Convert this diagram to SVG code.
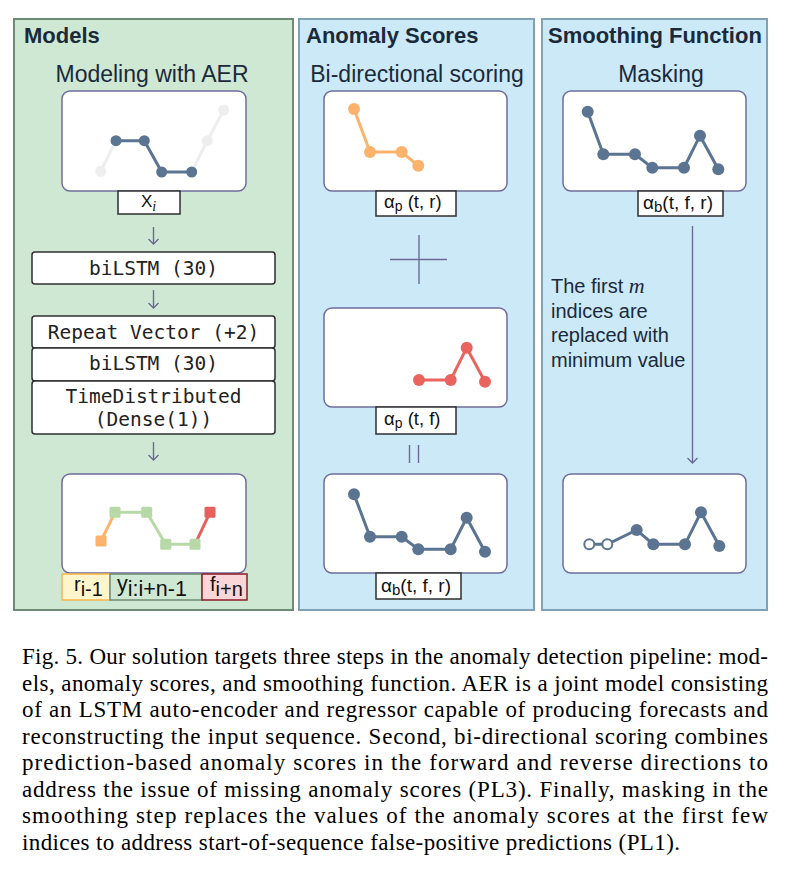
<svg xmlns="http://www.w3.org/2000/svg" width="790" height="882" viewBox="0 0 790 882">
<defs>
<style>
.pg{fill:#cfe8d4;stroke:#6e8c74;stroke-width:2}
.pb{fill:#cce9f8;stroke:#7ea2b3;stroke-width:2}
.chart{fill:#fff;stroke:#6f6c9b;stroke-width:1.5}
.title{font-family:"Liberation Sans",Arial,sans-serif;font-weight:bold;font-size:22px;fill:#1b2a3b}
.sub{font-family:"Liberation Sans",Arial,sans-serif;font-size:23px;fill:#1b2a3b;text-anchor:middle}
.mono{font-family:"DejaVu Sans Mono","Liberation Mono",monospace;font-size:19.5px;fill:#222;text-anchor:middle}
.box{fill:#fff;stroke:#2f2f2f;stroke-width:1.5}
.lt{font-family:"Liberation Sans",Arial,sans-serif;fill:#111}
.arr{stroke:#6b6b95;stroke-width:1.4;fill:none}
.dk{stroke:#5a7491;stroke-width:3;fill:none}
.dkp{fill:#5a7491}
.cap{font-family:"Liberation Serif","Times New Roman",serif;font-size:23px;fill:#000}
.note{font-family:"Liberation Sans",Arial,sans-serif;font-size:20px;fill:#1b2a3b}
</style>
</defs>
<rect width="790" height="882" fill="#fff"/>

<g id="panel-models">
<rect class="pg" x="14" y="19" width="279" height="591"/>
<text class="title" x="24" y="43">Models</text>
<text class="sub" x="152" y="82">Modeling with AER</text>
</g>
<g id="panel-scores">
<rect class="pb" x="299" y="19" width="235" height="591"/>
<text class="title" x="306" y="43">Anomaly Scores</text>
<text class="sub" x="417" y="82">Bi-directional scoring</text>
</g>
<g id="panel-smoothing">
<rect class="pb" x="542" y="19" width="225" height="591"/>
<text class="title" x="548" y="43">Smoothing Function</text>
<text class="sub" x="661" y="82">Masking</text>
</g>

<g id="input-chart">
<rect class="chart" x="62" y="91" width="184" height="100" rx="8"/>
<polyline points="100.7,171.3 116,140.7" stroke="#eeeeee" stroke-width="3" fill="none"/>
<polyline points="191.7,172 207.3,140.7 223.7,110" stroke="#eeeeee" stroke-width="3" fill="none"/>
<polyline class="dk" points="116,140.7 144.3,140.7 161.7,172 191.7,172"/>
<g fill="#eeeeee"><circle cx="100.7" cy="171.3" r="5.5"/><circle cx="207.3" cy="140.7" r="5.5"/><circle cx="223.7" cy="110" r="5.5"/></g>
<g class="dkp"><circle cx="116" cy="140.7" r="5.5"/><circle cx="144.3" cy="140.7" r="5.5"/><circle cx="161.7" cy="172" r="5.5"/><circle cx="191.7" cy="172" r="5.5"/></g>
</g>
<g id="label-xi">
<rect class="box" x="118" y="191" width="62" height="23"/>
<text class="lt" x="141" y="207" style="font-size:17px">X<tspan style="font-family:'Liberation Serif',serif;font-style:italic;font-size:14px" dy="4">i</tspan></text>
</g>

<g id="bilstm-1">
<rect class="box" x="32" y="252" width="243" height="32" rx="3"/>
<text class="mono" x="153.5" y="275">biLSTM (30)</text>
</g>
<g id="repeat-vector">
<rect class="box" x="32" y="316" width="243" height="32" rx="3"/>
<text class="mono" x="153.5" y="339">Repeat Vector (+2)</text>
</g>
<g id="bilstm-2">
<rect class="box" x="32" y="348" width="243" height="33" rx="3"/>
<text class="mono" x="153.5" y="370">biLSTM (30)</text>
</g>
<g id="time-distributed">
<rect class="box" x="32" y="381" width="243" height="53" rx="3"/>
<text class="mono" x="153.5" y="403">TimeDistributed</text>
<text class="mono" x="153.5" y="426">(Dense(1))</text>
</g>

<g id="output-chart">
<rect class="chart" x="62" y="474" width="184" height="99" rx="8"/>
<line x1="101" y1="541" x2="115" y2="512.3" stroke="#fdb36b" stroke-width="3"/>
<polyline points="115,512.3 146.7,512.3 165.7,544.3 195,544.3" stroke="#b7d9a7" stroke-width="3" fill="none"/>
<line x1="195" y1="544.3" x2="210" y2="512.3" stroke="#e8605e" stroke-width="3"/>
<rect x="95.5" y="535.5" width="11" height="11" rx="1.5" fill="#fdb36b"/>
<g fill="#b7d9a7">
<rect x="109.5" y="506.8" width="11" height="11" rx="1.5"/>
<rect x="141.2" y="506.8" width="11" height="11" rx="1.5"/>
<rect x="160.2" y="538.8" width="11" height="11" rx="1.5"/>
<rect x="189.5" y="538.8" width="11" height="11" rx="1.5"/>
</g>
<rect x="204.5" y="506.8" width="11" height="11" rx="1.5" fill="#e8605e"/>
</g>
<g id="label-r">
<rect x="62" y="574" width="48" height="26" fill="#fef5cc" stroke="#f6b548" stroke-width="1.5"/>
<text class="lt" x="74" y="591" style="font-size:20px">r<tspan dy="5">i-1</tspan></text>
</g>
<g id="label-y">
<rect x="110" y="574" width="92" height="26" fill="#cfe8d4" stroke="#6e8c74" stroke-width="1.5"/>
<text class="lt" x="117" y="591" style="font-size:21.5px">y<tspan dy="5">i:i+n-1</tspan></text>
</g>
<g id="label-f">
<rect x="202" y="574" width="45" height="26" fill="#fbd6d9" stroke="#8b1c24" stroke-width="1.5"/>
<text class="lt" x="210" y="591" style="font-size:20px">f<tspan dy="5">i+n</tspan></text>
</g>

<g id="reverse-chart">
<rect class="chart" x="324" y="91" width="183" height="100" rx="8"/>
<polyline points="354,109 370,152 401.7,152 418.3,165.7" stroke="#fdb36b" stroke-width="3" fill="none"/>
<g fill="#fdb36b"><circle cx="354" cy="109" r="6"/><circle cx="370" cy="152" r="6"/><circle cx="401.7" cy="152" r="6"/><circle cx="418.3" cy="165.7" r="6"/></g>
</g>
<g id="label-ap-tr">
<rect class="box" x="376" y="191" width="80" height="25"/>
<text class="lt" x="384" y="208" style="font-size:18.5px">α<tspan style="font-size:14px" dy="3">p</tspan><tspan dy="-3"> (t, r)</tspan></text>
</g>

<g id="forward-chart">
<rect class="chart" x="324" y="308" width="183" height="99" rx="8"/>
<polyline points="419,380 450.7,380 466.7,347.7 485,381.7" stroke="#e9645f" stroke-width="3" fill="none"/>
<g fill="#e9645f"><circle cx="419" cy="380" r="6"/><circle cx="450.7" cy="380" r="6"/><circle cx="466.7" cy="347.7" r="6"/><circle cx="485" cy="381.7" r="6"/></g>
</g>
<g id="label-ap-tf">
<rect class="box" x="376" y="407" width="80" height="27"/>
<text class="lt" x="384" y="425" style="font-size:18.5px">α<tspan style="font-size:14px" dy="3">p</tspan><tspan dy="-3"> (t, f)</tspan></text>
</g>

<g id="combined-chart">
<rect class="chart" x="324" y="474" width="183" height="99" rx="8"/>
<polyline class="dk" points="354,494.3 370,536.7 401.7,536.7 418.3,549.3 450.7,549.3 466.7,517.7 485,551.7"/>
<g class="dkp"><circle cx="354" cy="494.3" r="6"/><circle cx="370" cy="536.7" r="6"/><circle cx="401.7" cy="536.7" r="6"/><circle cx="418.3" cy="549.3" r="6"/><circle cx="450.7" cy="549.3" r="6"/><circle cx="466.7" cy="517.7" r="6"/><circle cx="485" cy="551.7" r="6"/></g>
</g>
<g id="label-ab-1">
<rect class="box" x="376" y="573" width="85" height="26"/>
<text class="lt" x="381" y="592" style="font-size:19px">α<tspan style="font-size:15px" dy="3">b</tspan><tspan dy="-3">(t, f, r)</tspan></text>
</g>

<g id="smooth-input-chart">
<rect class="chart" x="563" y="91" width="183" height="100" rx="8"/>
<polyline class="dk" points="587.7,111.7 603.3,154.3 635,154.3 652.3,167.7 684,167.7 700,135.7 718.3,169.3"/>
<g class="dkp"><circle cx="587.7" cy="111.7" r="6"/><circle cx="603.3" cy="154.3" r="6"/><circle cx="635" cy="154.3" r="6"/><circle cx="652.3" cy="167.7" r="6"/><circle cx="684" cy="167.7" r="6"/><circle cx="700" cy="135.7" r="6"/><circle cx="718.3" cy="169.3" r="6"/></g>
</g>
<g id="label-ab-2">
<rect class="box" x="638" y="191" width="85" height="25"/>
<text class="lt" x="643" y="209" style="font-size:19px">α<tspan style="font-size:15px" dy="3">b</tspan><tspan dy="-3">(t, f, r)</tspan></text>
</g>

<g id="masking-note">
<text class="note" x="551" y="293">The first <tspan style="font-family:'Liberation Serif',serif;font-style:italic;font-size:22px">m</tspan></text>
<text class="note" x="551" y="318">indices are</text>
<text class="note" x="551" y="342">replaced with</text>
<text class="note" x="551" y="367">minimum value</text>
</g>

<g id="masked-chart">
<rect class="chart" x="563" y="474" width="183" height="99" rx="8"/>
<polyline class="dk" points="589.3,544.3 607.3,544.3 636.7,530 653.3,544.3 685,544.3 701,512.3 719.3,546"/>
<g fill="#fff" stroke="#5a7491" stroke-width="2"><circle cx="589.3" cy="544.3" r="5"/><circle cx="607.3" cy="544.3" r="5"/></g>
<g class="dkp"><circle cx="636.7" cy="530" r="6"/><circle cx="653.3" cy="544.3" r="6"/><circle cx="685" cy="544.3" r="6"/><circle cx="701" cy="512.3" r="6"/><circle cx="719.3" cy="546" r="6"/></g>
</g>

<g id="connectors">
<line class="arr" x1="153.5" y1="227" x2="153.5" y2="244"/>
<polyline class="arr" points="148.5,239 153.5,244 158.5,239"/>
<line class="arr" x1="153.5" y1="290" x2="153.5" y2="308"/>
<polyline class="arr" points="148.5,303 153.5,308 158.5,303"/>
<line class="arr" x1="153.5" y1="442" x2="153.5" y2="460"/>
<polyline class="arr" points="148.5,455 153.5,460 158.5,455"/>
<line class="arr" x1="419" y1="235" x2="419" y2="284"/>
<line class="arr" x1="390" y1="259.5" x2="447" y2="259.5"/>
<line class="arr" x1="409.5" y1="445" x2="409.5" y2="463"/>
<line class="arr" x1="418.5" y1="445" x2="418.5" y2="463"/>
<line class="arr" x1="692.5" y1="226" x2="692.5" y2="463"/>
<polyline class="arr" points="687.5,458 692.5,463 697.5,458"/>
</g>

<g id="caption">
<text class="cap" x="22" y="664" textLength="746" lengthAdjust="spacing">Fig. 5.  Our solution targets three steps in the anomaly detection pipeline: mod-</text>
<text class="cap" x="22" y="691" textLength="746" lengthAdjust="spacing">els, anomaly scores, and smoothing function. AER is a joint model consisting</text>
<text class="cap" x="22" y="717" textLength="746" lengthAdjust="spacing">of an LSTM auto-encoder and regressor capable of producing forecasts and</text>
<text class="cap" x="22" y="744" textLength="746" lengthAdjust="spacing">reconstructing the input sequence. Second, bi-directional scoring combines</text>
<text class="cap" x="22" y="770" textLength="746" lengthAdjust="spacing">prediction-based anomaly scores in the forward and reverse directions to</text>
<text class="cap" x="22" y="797" textLength="746" lengthAdjust="spacing">address the issue of missing anomaly scores (PL3). Finally, masking in the</text>
<text class="cap" x="22" y="823" textLength="746" lengthAdjust="spacing">smoothing step replaces the values of the anomaly scores at the first few</text>
<text class="cap" x="22" y="850" textLength="658" lengthAdjust="spacing">indices to address start-of-sequence false-positive predictions (PL1).</text>
</g>
</svg>
